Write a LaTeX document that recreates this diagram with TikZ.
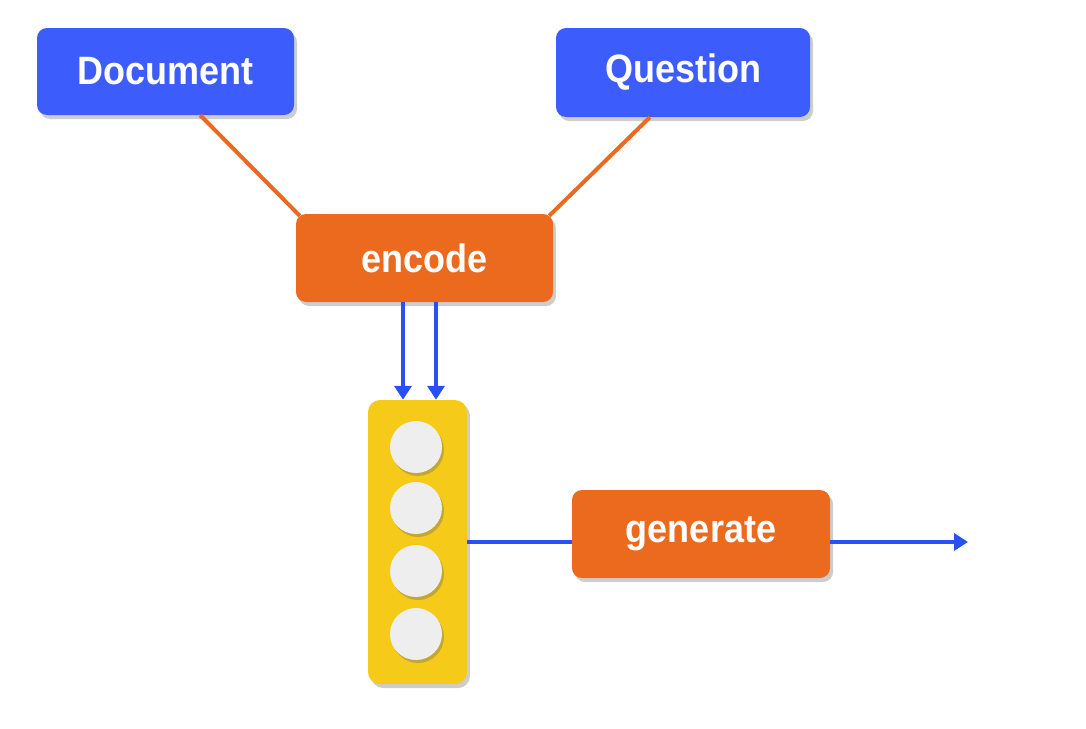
\documentclass[tikz,border=0pt]{standalone}
\usepackage{fontspec}
\setmainfont{Liberation Sans}
\usetikzlibrary{arrows.meta,shadows,calc}
\definecolor{boxblue}{RGB}{61,92,252}
\definecolor{boxorange}{RGB}{236,106,30}
\definecolor{baryellow}{RGB}{246,202,24}
\definecolor{cellgray}{RGB}{238,238,238}
\definecolor{arrowblue}{RGB}{40,80,245}
\tikzset{
  shadowed/.style={drop shadow={shadow xshift=3pt,shadow yshift=-4pt,opacity=0.28,fill=black!70}},
  bluebox/.style={shadowed,fill=boxblue,rounded corners=10pt,inner sep=0pt,text=white,font=\fontsize{36}{36}\selectfont\bfseries},
  orangebox/.style={shadowed,fill=boxorange,rounded corners=10pt,inner sep=0pt,text=white,font=\fontsize{36}{36}\selectfont\bfseries},
  barbox/.style={shadowed,fill=baryellow,rounded corners=12pt,inner sep=0pt},
  cell/.style={drop shadow={shadow xshift=2pt,shadow yshift=-3pt,opacity=0.35,fill=black!60},fill=cellgray,circle,inner sep=0pt,minimum size=52pt},
  orangeline/.style={draw=boxorange,line width=4pt},
  bluearrow/.style={draw=arrowblue,line width=4pt,-{Triangle[length=14pt,width=17pt]}},
  blueline/.style={draw=arrowblue,line width=4pt}
}
\newcommand{\stretchtxt}[1]{\scalebox{1}[1.1]{#1}}
\begin{document}
\begin{tikzpicture}[x=1pt,y=-1pt]
\useasboundingbox (0,0) rectangle (1086,728);
\node[bluebox,minimum width=257pt,minimum height=87pt] (doc) at (165.5,71.5) {\stretchtxt{Document}};
\node[bluebox,minimum width=254pt,minimum height=89pt] (ques) at (683,72.5) {\stretchtxt{Question}};
\node[orangebox,minimum width=257pt,minimum height=88pt] (enc) at (424.5,258) {\stretchtxt{encode}};
\node[barbox,minimum width=99pt,minimum height=284pt] (bar) at (417.5,542) {};
\node[cell] (c1) at (416,447) {};
\node[cell] (c2) at (416,508) {};
\node[cell] (c3) at (416,571) {};
\node[cell] (c4) at (416,634) {};
\node[orangebox,minimum width=258pt,minimum height=88pt] (gen) at (701,534) {\stretchtxt{generate}};
\coordinate (out) at (968,542);
\coordinate (a1) at ($(bar.north)+(-14.5,0)$);
\coordinate (a2) at ($(bar.north)+(18.5,0)$);
\draw[orangeline] ($(doc.south west)!0.635!(doc.south east)$) -- ($(enc.north west)+(4,2)$);
\draw[orangeline] ($(ques.south west)!0.37!(ques.south east)$) -- ($(enc.north east)+(-4,2)$);
\draw[bluearrow] (enc.south -| a1) -- (a1);
\draw[bluearrow] (enc.south -| a2) -- (a2);
\draw[blueline] (bar.east) -- (bar.east -| gen.west);
\draw[bluearrow] (gen.east |- out) -- (out);
\end{tikzpicture}
\end{document}
